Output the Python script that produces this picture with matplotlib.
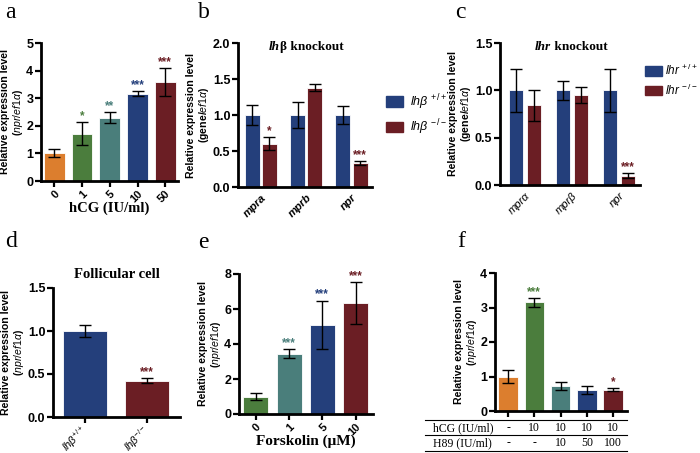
import numpy as np
import matplotlib
matplotlib.use("Agg")
import matplotlib.pyplot as plt
from matplotlib.patches import Patch

plt.rcParams["font.family"] = ["Liberation Sans", "DejaVu Sans"]
plt.rcParams["mathtext.fontset"] = "custom"
plt.rcParams["mathtext.rm"] = "Liberation Sans"
plt.rcParams["mathtext.it"] = "Liberation Sans:italic"
plt.rcParams["mathtext.bf"] = "Liberation Sans:bold"

# ── data ──────────────────────────────────────────────────────
ORANGE, GREEN, TEAL, NAVY, MAROON = "#DC7E2E", "#4B7D3D", "#4A7E7B", "#243F7B", "#6B1E24"

a_labels = ["0", "1", "5", "10", "50"]
a_vals = [1.02, 1.72, 2.30, 3.17, 3.58]
a_errs = [0.15, 0.40, 0.20, 0.10, 0.50]
a_stars = ["", "*", "**", "***", "***"]
a_colors = [ORANGE, GREEN, TEAL, NAVY, MAROON]

b_genes = ["mpra", "mprb", "npr"]
b_wt = [1.00, 1.00, 1.00]
b_wt_err = [0.14, 0.18, 0.12]
b_ko = [0.60, 1.38, 0.33]
b_ko_err = [0.09, 0.05, 0.03]
b_stars = ["*", "", "***"]

c_genes = ["mprα", "mprβ", "npr"]
c_wt = [1.00, 1.00, 1.00]
c_wt_err = [0.23, 0.10, 0.23]
c_ko = [0.84, 0.95, 0.10]
c_ko_err = [0.16, 0.08, 0.03]
c_stars = ["", "", "***"]

d_labels = [r"$lh\beta^{+/+}$", r"$lh\beta^{-/-}$"]
d_vals = [1.00, 0.42]
d_errs = [0.07, 0.03]
d_stars = ["", "***"]

e_labels = ["0", "1", "5", "10"]
e_vals = [1.00, 3.45, 5.10, 6.35]
e_errs = [0.20, 0.25, 1.38, 1.18]
e_stars = ["", "***", "***", "***"]
e_colors = [GREEN, TEAL, NAVY, MAROON]

f_vals = [1.00, 3.15, 0.73, 0.60, 0.62]
f_errs = [0.18, 0.13, 0.12, 0.12, 0.05]
f_stars = ["", "***", "", "", "*"]
f_colors = [ORANGE, GREEN, TEAL, NAVY, MAROON]
f_hcg = ["-", "10", "10", "10", "10"]
f_h89 = ["-", "-", "10", "50", "100"]

W, H = 700, 453
fig = plt.figure(figsize=(7, 4.53), dpi=100)


def axes_px(l, t, r, b):
    return fig.add_axes([l / W, 1 - b / H, (r - l) / W, (b - t) / H])


def style(ax):
    for s in ["top", "right"]:
        ax.spines[s].set_visible(False)
    for s in ["left", "bottom"]:
        ax.spines[s].set_linewidth(2)
    ax.tick_params(direction="out", length=4, width=1.6, labelsize=9, pad=1.5)
    ax.tick_params(axis="x", labelsize=8)
    for lab in ax.get_yticklabels():
        lab.set_fontweight("bold")


def bars(ax, x, vals, errs, colors, stars, star_colors, width):
    ax.bar(x, vals, width, color=colors, edgecolor="white", linewidth=0.6)
    ax.errorbar(x, vals, yerr=errs, fmt="none", ecolor="black",
                elinewidth=1, capsize=4, capthick=1)
    for xi, v, e, s, c in zip(x, vals, errs, stars, star_colors):
        if s:
            ax.text(xi, v + e, s, ha="center", va="bottom", color=c,
                    fontsize=8.5, fontweight="bold")


def ylab(ax, text):
    ax.set_ylabel(text, fontsize=7.6, fontweight="bold", labelpad=1,
                  linespacing=1.1)


YLAB_NPR = "Relative expression level\n(" + r"$npr/ef1\alpha$" + ")"
YLAB_GENE = "Relative expression level\n(gene/" + r"$ef1\alpha$" + ")"
SERIF = "Liberation Serif"

# ── a ─────────────────────────────────────────────────────────
ax = axes_px(41, 43, 178, 181)
x = np.arange(len(a_vals))
bars(ax, x, a_vals, a_errs, a_colors, a_stars, a_colors, 0.75)
ax.set_xlim(-0.48, 4.46)
ax.set_ylim(0, 5)
ax.set_yticks(range(6))
ax.set_xticks(x)
ax.set_xticklabels(a_labels, rotation=45, ha="right", rotation_mode="anchor",
                   fontweight="bold")
style(ax)
ylab(ax, YLAB_NPR)
fig.text(109 / W, 1 - 208 / H, "hCG (IU/ml)", family=SERIF, fontsize=10.5,
         fontweight="bold", ha="center", va="center")

# ── b ─────────────────────────────────────────────────────────
ax = axes_px(238, 43, 372, 187)
x = np.arange(3)
bars(ax, x - 0.19, b_wt, b_wt_err, NAVY, [""] * 3, [NAVY] * 3, 0.33)
bars(ax, x + 0.19, b_ko, b_ko_err, MAROON, b_stars, [MAROON] * 3, 0.33)
ax.set_xlim(-0.5, 2.45)
ax.set_ylim(0, 2.0)
ax.set_yticks([0, 0.5, 1.0, 1.5, 2.0])
ax.set_yticklabels(["0.0", "0.5", "1.0", "1.5", "2.0"])
ax.set_xticks(x)
ax.set_xticklabels(b_genes, rotation=45, ha="right", rotation_mode="anchor",
                   fontweight="bold", style="italic", fontsize=9)
style(ax)
ax.tick_params(axis="x", length=0, pad=4)
ylab(ax, YLAB_GENE)
t1 = ax.text(0.23, 0.975, "lh", transform=ax.transAxes, family=SERIF,
             style="italic", fontweight="bold", fontsize=9.5, va="center")
ax.annotate("β knockout", xy=(1, 0), xycoords=t1, va="bottom",
            family=SERIF, fontweight="bold", fontsize=9.5)
ax.legend(handles=[Patch(color=NAVY), Patch(color=MAROON)],
          labels=[r"$lh\beta^{\,+/+}$", r"$lh\beta^{\,-/-}$"],
          loc="upper left", bbox_to_anchor=(386 / W, 1 - 92 / H),
          bbox_transform=fig.transFigure, frameon=False, fontsize=9,
          handlelength=1.4, handleheight=0.9, labelspacing=0.45,
          borderpad=0, borderaxespad=0, handletextpad=0.5)

# ── c ─────────────────────────────────────────────────────────
ax = axes_px(500, 43, 640, 185)
x = np.arange(3)
bars(ax, x - 0.19, c_wt, c_wt_err, NAVY, [""] * 3, [NAVY] * 3, 0.31)
bars(ax, x + 0.19, c_ko, c_ko_err, MAROON, c_stars, [MAROON] * 3, 0.31)
ax.set_xlim(-0.53, 2.45)
ax.set_ylim(0, 1.5)
ax.set_yticks([0, 0.5, 1.0, 1.5])
ax.set_yticklabels(["0.0", "0.5", "1.0", "1.5"])
ax.set_xticks(x)
ax.set_xticklabels(c_genes, rotation=45, ha="right", rotation_mode="anchor",
                   style="italic", fontsize=9)
style(ax)
ax.tick_params(axis="x", length=0, pad=4)
ylab(ax, YLAB_GENE)
t1 = ax.text(0.25, 0.975, "lhr", transform=ax.transAxes, family=SERIF,
             style="italic", fontweight="bold", fontsize=9.5, va="center")
ax.annotate(" knockout", xy=(1, 0), xycoords=t1, va="bottom",
            family=SERIF, fontweight="bold", fontsize=9.5)
ax.legend(handles=[Patch(color=NAVY), Patch(color=MAROON)],
          labels=[r"$lhr^{\,+/+}$", r"$lhr^{\,-/-}$"],
          loc="upper left", bbox_to_anchor=(645 / W, 1 - 63 / H),
          bbox_transform=fig.transFigure, frameon=False, fontsize=8.5,
          handlelength=1.4, handleheight=0.9, labelspacing=0.35,
          borderpad=0, borderaxespad=0, handletextpad=0.3)

# ── d ─────────────────────────────────────────────────────────
ax = axes_px(53, 288, 180, 417)
x = np.arange(2)
bars(ax, x, d_vals, d_errs, [NAVY, MAROON], d_stars, [MAROON, MAROON], 0.71)
ax.set_xlim(-0.52, 1.53)
ax.set_ylim(0, 1.5)
ax.set_yticks([0, 0.5, 1.0, 1.5])
ax.set_yticklabels(["0.0", "0.5", "1.0", "1.5"])
ax.set_xticks(x)
ax.set_xticklabels(d_labels, rotation=45, ha="right", va="center",
                   rotation_mode="anchor", fontsize=6.5)
style(ax)
ax.tick_params(axis="x", pad=4)
ylab(ax, YLAB_NPR)
ax.set_title("Follicular cell", family=SERIF, fontweight="bold", fontsize=10.5, pad=7)

# ── e ─────────────────────────────────────────────────────────
ax = axes_px(239, 274, 373, 414)
x = np.arange(len(e_vals))
bars(ax, x, e_vals, e_errs, e_colors, e_stars, e_colors, 0.75)
ax.set_xlim(-0.5, 3.52)
ax.set_ylim(0, 8)
ax.set_yticks([0, 2, 4, 6, 8])
ax.set_xticks(x)
ax.set_xticklabels(e_labels, rotation=45, ha="right", rotation_mode="anchor",
                   fontweight="bold")
style(ax)
ylab(ax, YLAB_NPR)
fig.text(306 / W, 1 - 441 / H, "Forskolin (μM)", family=SERIF, fontsize=11,
         fontweight="bold", ha="center", va="center")

# ── f ─────────────────────────────────────────────────────────
ax = axes_px(495, 273, 627, 411)
x = np.arange(len(f_vals))
bars(ax, x, f_vals, f_errs, f_colors, f_stars, [GREEN, GREEN, TEAL, NAVY, MAROON], 0.75)
ax.set_xlim(-0.5, 4.53)
ax.set_ylim(0, 4)
ax.set_yticks([0, 1, 2, 3, 4])
ax.set_xticks(x)
ax.set_xticklabels([])
style(ax)
ylab(ax, YLAB_NPR)

hgt = 411 - 273


def fy(py):
    return -(py - 411) / hgt


tx = ax.get_xaxis_transform()
lx0 = (425 - 495) / (627 - 495)
for py in [420, 435, 451]:
    ax.plot([lx0, 1.0], [fy(py), fy(py)], transform=ax.transAxes, color="black",
            linewidth=0.8, clip_on=False)
ax.text((433 - 495) / (627 - 495), fy(428), "hCG (IU/ml)", transform=ax.transAxes,
        family=SERIF, fontsize=8.5, va="center", ha="left")
ax.text((433 - 495) / (627 - 495), fy(443), "H89 (IU/ml)", transform=ax.transAxes,
        family=SERIF, fontsize=8.5, va="center", ha="left")
for xi, h, k in zip(x, f_hcg, f_h89):
    ax.text(xi, fy(428), h, transform=tx, family=SERIF, fontsize=8.5,
            ha="center", va="center")
    ax.text(xi, fy(443), k, transform=tx, family=SERIF, fontsize=8.5,
            ha="center", va="center")

# ── panel letters ─────────────────────────────────────────────
for letter, px, py in [("a", 5, 13), ("b", 198, 13), ("c", 455, 13),
                       ("d", 5, 242), ("e", 198, 243), ("f", 457, 242)]:
    fig.text(px / W, 1 - py / H, letter, family=SERIF, fontsize=17,
             ha="left", va="center")

fig.savefig("out.png", dpi=100)
